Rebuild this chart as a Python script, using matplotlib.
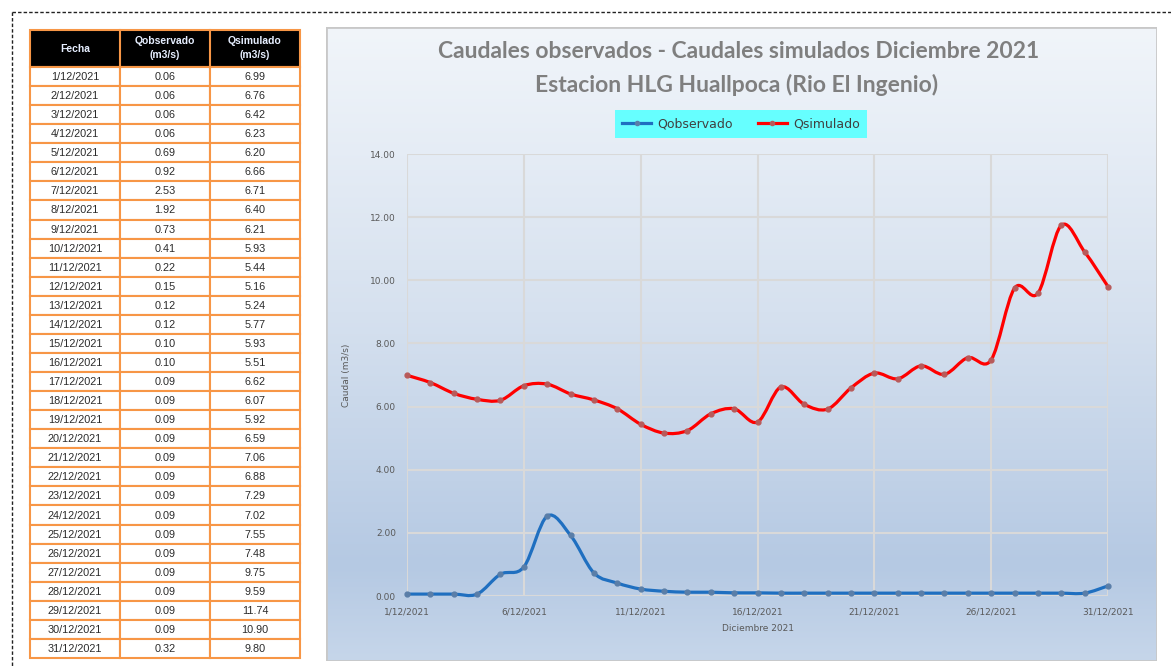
import matplotlib
matplotlib.use("Agg")
import matplotlib.pyplot as plt
import numpy as np
from matplotlib.path import Path
from matplotlib.patches import PathPatch, Rectangle
from matplotlib.lines import Line2D
from matplotlib.colors import LinearSegmentedColormap

# datos diarios diciembre 2021
dias = list(range(1, 32))
fechas = [f"{d}/12/2021" for d in dias]
q_obs = [0.06, 0.06, 0.06, 0.06, 0.69, 0.92, 2.53, 1.92, 0.73, 0.41,
         0.22, 0.15, 0.12, 0.12, 0.10, 0.10, 0.09, 0.09, 0.09, 0.09,
         0.09, 0.09, 0.09, 0.09, 0.09, 0.09, 0.09, 0.09, 0.09, 0.09, 0.32]
q_sim = [6.99, 6.76, 6.42, 6.23, 6.20, 6.66, 6.71, 6.40, 6.21, 5.93,
         5.44, 5.16, 5.24, 5.77, 5.93, 5.51, 6.62, 6.07, 5.92, 6.59,
         7.06, 6.88, 7.29, 7.02, 7.55, 7.48, 9.75, 9.59, 11.74, 10.90, 9.80]
xticks_dias = [1, 6, 11, 16, 21, 26, 31]
yticks = [0, 2, 4, 6, 8, 10, 12, 14]

W, H = 1171, 668
fig = plt.figure(figsize=(W / 100, H / 100), dpi=100)
fig.patch.set_facecolor("white")

# lienzo en pixeles para el marco y la tabla
canvas = fig.add_axes([0, 0, 1, 1])
canvas.set_xlim(0, W)
canvas.set_ylim(H, 0)
canvas.axis("off")

canvas.plot([12, 12], [12, H], ls=(0, (2.5, 1.5)), color="#222222", lw=1)
canvas.plot([12, W], [12, 12], ls=(0, (2.5, 1.5)), color="#222222", lw=1)

# tabla
cols = [30, 120, 210, 300]
top_h, bot_h = 30, 67
row_h = (658 - bot_h) / 31
orange = "#f79646"
canvas.add_patch(Rectangle((cols[0], top_h), cols[-1] - cols[0], bot_h - top_h,
                           facecolor="black", edgecolor=orange, lw=1.5))
headers = ["Fecha", "Qobservado\n(m3/s)", "Qsimulado\n(m3/s)"]
for i, h in enumerate(headers):
    canvas.text((cols[i] + cols[i + 1]) / 2, (top_h + bot_h) / 2, h,
                ha="center", va="center", color="#e6eeff", fontsize=7.5,
                family="Liberation Sans", fontweight="bold", linespacing=1.5)
for i in range(1, 3):
    canvas.plot([cols[i], cols[i]], [top_h, bot_h], color=orange, lw=1.5)

for r in range(31):
    y0 = bot_h + r * row_h
    vals = [fechas[r], f"{q_obs[r]:.2f}", f"{q_sim[r]:.2f}"]
    for c in range(3):
        canvas.add_patch(Rectangle((cols[c], y0), cols[c + 1] - cols[c], row_h,
                                   facecolor="white", edgecolor=orange, lw=1.5))
        canvas.text((cols[c] + cols[c + 1]) / 2, y0 + row_h / 2 + 0.5, vals[c],
                    ha="center", va="center", color="#2b2b2b", fontsize=7.8,
                    family="Liberation Sans")

# fondo del grafico con degradado
cx0, cy0, cx1, cy1 = 326, 27, 1157, 661
bg = fig.add_axes([cx0 / W, 1 - cy1 / H, (cx1 - cx0) / W, (cy1 - cy0) / H])
bg.axis("off")
cmap = LinearSegmentedColormap.from_list(
    "grad", [(0, "#f1f5fa"), (0.45, "#d6e1ef"), (0.85, "#b5c9e3"), (1, "#c6d6ea")])
grad = np.linspace(0, 1, 256).reshape(-1, 1)
bg.imshow(grad, aspect="auto", cmap=cmap, extent=[0, 1, 0, 1], origin="upper")
bg.set_xlim(0, 1)
bg.set_ylim(0, 1)
bg.add_patch(Rectangle((0, 0), 1, 1, transform=bg.transAxes, fill=False,
                       edgecolor="#c8c8c8", lw=2))

# grafico principal
ax = fig.add_axes([407 / W, 1 - 596 / H, (1108 - 407) / W, (596 - 154) / H])
ax.set_facecolor("none")
ax.set_xlim(1, 31)
ax.set_ylim(0, 14)
ax.set_xticks(xticks_dias)
ax.set_xticklabels([fechas[d - 1] for d in xticks_dias])
ax.set_yticks(yticks)
ax.set_yticklabels([f"{v:.2f}" for v in yticks])
ax.grid(True, color="#d9d9d9", lw=1.5)
ax.set_axisbelow(True)
for s in ax.spines.values():
    s.set_visible(False)
ax.tick_params(length=0, labelsize=6.5, colors="#595959", pad=8)
ax.set_xlabel("Diciembre 2021", fontsize=6.5, color="#595959", labelpad=6)
ax.set_ylabel("Caudal (m3/s)", fontsize=6.5, color="#595959", labelpad=14)


def smooth_path(x, y):
    # curva suavizada tipo Excel (Bezier por tramos)
    n = len(x)
    verts = [(x[0], y[0])]
    codes = [Path.MOVETO]
    for i in range(n - 1):
        xa, ya = (x[i - 1], y[i - 1]) if i > 0 else (x[i], y[i])
        xb, yb = (x[i + 2], y[i + 2]) if i + 2 < n else (x[i + 1], y[i + 1])
        c1 = (x[i] + (x[i + 1] - xa) / 6, y[i] + (y[i + 1] - ya) / 6)
        c2 = (x[i + 1] - (xb - x[i]) / 6, y[i + 1] - (yb - y[i]) / 6)
        verts += [c1, c2, (x[i + 1], y[i + 1])]
        codes += [Path.CURVE4] * 3
    return Path(verts, codes)


series = [("Qobservado", q_obs, "#1f6fc0", "#5a7ea8"),
          ("Qsimulado", q_sim, "#ff0000", "#b85a5a")]
handles = []
for name, vals, col, mcol in series:
    ax.add_patch(PathPatch(smooth_path(dias, vals), facecolor="none",
                           edgecolor=col, lw=2.3, clip_on=False, zorder=3))
    ax.plot(dias, vals, ls="none", marker="o", ms=3.5, color=mcol,
            clip_on=False, zorder=4)
    handles.append(Line2D([0], [0], color=col, lw=2.3, marker="o", ms=3,
                          markerfacecolor=mcol, markeredgecolor=mcol))

fig.text(739 / W, 1 - 52 / H, "Caudales observados - Caudales simulados Diciembre 2021",
         ha="center", va="center", fontsize=16.5, fontweight="bold",
         color="#7f7f7f", family="Lato")
fig.text(737 / W, 1 - 85 / H, "Estacion HLG Huallpoca (Rio El Ingenio)",
         ha="center", va="center", fontsize=16.5, fontweight="bold",
         color="#7f7f7f", family="Lato")

leg = fig.legend(handles, [s[0] for s in series], loc="center",
                 bbox_to_anchor=(741 / W, 1 - 124 / H), ncol=2, frameon=True,
                 fontsize=9, handlelength=2.3, columnspacing=2.0,
                 borderpad=0.6, handletextpad=0.5, fancybox=False)
leg.get_frame().set_facecolor("#66ffff")
leg.get_frame().set_edgecolor("none")
leg.get_frame().set_alpha(1)
for t in leg.get_texts():
    t.set_color("#404040")

fig.savefig("out.png", dpi=100)
